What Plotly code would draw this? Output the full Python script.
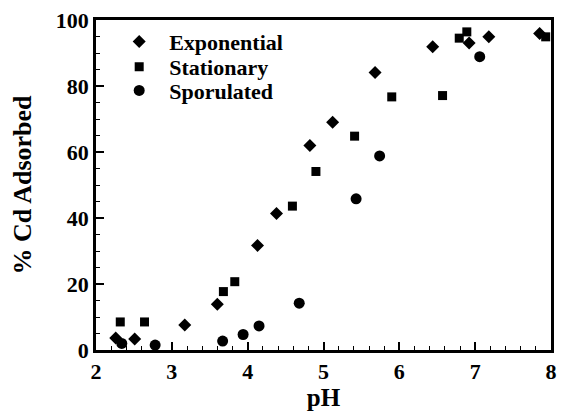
import plotly.graph_objects as go

exp_ph = [2.26, 2.51, 3.17, 3.60, 4.13, 4.38, 4.82, 5.12, 5.68, 6.44, 6.92, 7.18, 7.85]
exp_cd = [3.6, 3.3, 7.6, 13.9, 31.7, 41.4, 62.0, 69.0, 84.1, 91.9, 93.0, 94.9, 95.9]

sta_ph = [2.32, 2.64, 3.68, 3.83, 4.59, 4.90, 5.41, 5.90, 6.57, 6.79, 6.89, 7.93]
sta_cd = [8.5, 8.5, 17.7, 20.7, 43.6, 54.1, 64.8, 76.7, 77.1, 94.5, 96.4, 94.9]

spo_ph = [2.34, 2.78, 3.67, 3.94, 4.15, 4.68, 5.43, 5.74, 7.06]
spo_cd = [2.0, 1.5, 2.7, 4.7, 7.3, 14.2, 45.8, 58.8, 88.9]

x_ticks = [2, 3, 4, 5, 6, 7, 8]
y_ticks = [0, 20, 40, 60, 80, 100]

FONT = "Liberation Serif"

fig = go.Figure()
fig.add_trace(go.Scatter(x=exp_ph, y=exp_cd, mode="markers", name="Exponential", legend="legend",
                         marker=dict(symbol="diamond", size=10, color="black")))
fig.add_trace(go.Scatter(x=sta_ph, y=sta_cd, mode="markers", name="Stationary", legend="legend2",
                         marker=dict(symbol="square", size=9, color="black")))
fig.add_trace(go.Scatter(x=spo_ph, y=spo_cd, mode="markers", name="Sporulated", legend="legend3",
                         marker=dict(symbol="circle", size=11, color="black")))

axis_common = dict(
    showgrid=False, zeroline=False, showline=True, linecolor="black", linewidth=2.5,
    mirror=True, ticks="inside", ticklen=8, tickwidth=1.5, tickcolor="black",
    tickfont=dict(family=FONT, size=22, color="black", weight="bold"),
)

def leg(y):
    return dict(x=0.029, y=y, xanchor="left", yanchor="middle",
                bgcolor="rgba(0,0,0,0)", borderwidth=0, itemwidth=50,
                font=dict(family=FONT, size=22, color="black", weight="bold"))

fig.update_layout(
    width=565, height=412,
    margin=dict(l=96, r=8, t=19, b=61),
    paper_bgcolor="white", plot_bgcolor="white",
    font=dict(family=FONT, color="black"),
    showlegend=True,
    legend=leg(0.934), legend2=leg(0.858), legend3=leg(0.786),
    xaxis=dict(range=[2, 8], tickvals=x_ticks, ticktext=[f"<b>{v}</b>" for v in x_ticks],
               minor=dict(dtick=0.2, tick0=2, ticks="inside", ticklen=4, tickwidth=1, tickcolor="black"),
               title=dict(text="pH", font=dict(family=FONT, size=25, color="black", weight="bold"), standoff=2),
               **axis_common),
    yaxis=dict(range=[0, 100], tickvals=y_ticks, ticktext=[f"<b>{v}</b>" for v in y_ticks],
               minor=dict(dtick=5, tick0=0, ticks="inside", ticklen=4, tickwidth=1, tickcolor="black"),
               title=dict(text="% Cd Adsorbed", font=dict(family=FONT, size=26, color="black", weight="bold"), standoff=17),
               **axis_common),
)

fig.write_html("out.html")
